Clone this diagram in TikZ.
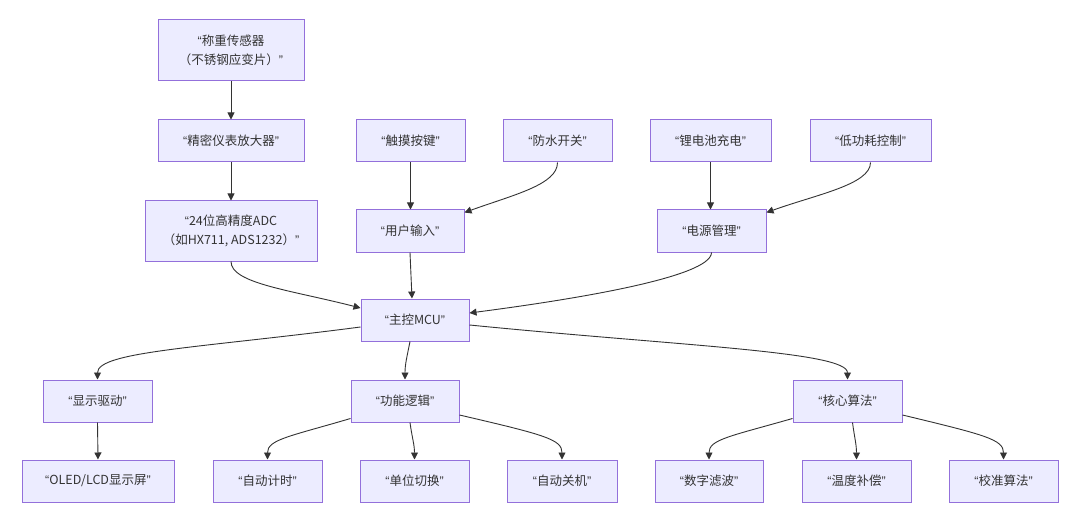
\documentclass[tikz,border=0pt]{standalone}
\usepackage{fontspec}
\setmainfont{Noto Sans CJK SC}
\newfontfamily\quotefont{Liberation Sans}
\newcommand{\lquo}{{\quotefont “}}
\newcommand{\rquo}{{\quotefont ”}}
\usetikzlibrary{arrows.meta,calc}
\definecolor{nodefill}{HTML}{ECECFF}
\definecolor{nodeborder}{HTML}{9370DB}
\definecolor{edgecol}{HTML}{333333}
\definecolor{txt}{HTML}{333333}
\begin{document}
\begin{tikzpicture}[x=1pt,y=-1pt,
  box/.style={draw=nodeborder, fill=nodefill, line width=1pt, inner sep=0pt,
    minimum height=42pt, text=txt, font=\fontsize{12.5}{19}\selectfont, align=center},
  edge/.style={draw=edgecol, line width=0.9pt, -{Triangle[length=7pt,width=7pt]}}]
\fill[white] (0,0) rectangle (1080,524);
\useasboundingbox (0,0) rectangle (1080,524);
% row 1
\node[box, minimum width=146pt, minimum height=61pt] (sensor) at (231,50.5) {\lquo 称重传感器\\（不锈钢应变片）\rquo};
% row 2
\node[box, minimum width=146pt] (amp) at (231,141) {\lquo 精密仪表放大器\rquo};
\node[box, minimum width=109pt] (touch) at (410.5,141) {\lquo 触摸按键\rquo};
\node[box, minimum width=109pt] (water) at (557.5,141) {\lquo 防水开关\rquo};
\node[box, minimum width=121pt] (charge) at (710.5,141) {\lquo 锂电池充电\rquo};
\node[box, minimum width=121pt] (lowpow) at (870.5,141) {\lquo 低功耗控制\rquo};
% row 3
\node[box, minimum width=172pt, minimum height=60pt] (adc) at (231,231) {\lquo 24位高精度ADC\\（如HX711, ADS1232）\rquo};
\node[box, minimum width=108pt] (userin) at (410,231) {\lquo 用户输入\rquo};
\node[box, minimum width=109pt] (power) at (711.5,231) {\lquo 电源管理\rquo};
% row 4
\node[box, minimum width=108pt] (mcu) at (415,320) {\lquo 主控MCU\rquo};
% row 5
\node[box, minimum width=109pt] (display) at (97.5,401) {\lquo 显示驱动\rquo};
\node[box, minimum width=108pt] (func) at (405,401) {\lquo 功能逻辑\rquo};
\node[box, minimum width=109pt] (core) at (847.5,401) {\lquo 核心算法\rquo};
% row 6
\node[box, minimum width=152pt] (oled) at (98,481) {\lquo OLED/LCD显示屏\rquo};
\node[box, minimum width=109pt] (timer) at (267.5,481) {\lquo 自动计时\rquo};
\node[box, minimum width=109pt] (unit) at (414.5,481) {\lquo 单位切换\rquo};
\node[box, minimum width=110pt] (off) at (562,481) {\lquo 自动关机\rquo};
\node[box, minimum width=108pt] (filter) at (709,481) {\lquo 数字滤波\rquo};
\node[box, minimum width=109pt] (temp) at (856.5,481) {\lquo 温度补偿\rquo};
\node[box, minimum width=109pt] (calib) at (1003.5,481) {\lquo 校准算法\rquo};
% edges
\draw[edge] (sensor.south) -- (amp.north);
\draw[edge] (amp.south) -- (adc.north);
\draw[edge] (touch.south) -- (touch.south |- userin.north);
\draw[edge] (charge.south) -- (charge.south |- power.north);
\draw[edge] (water.south) .. controls ($(water.south)+(0,22)$) and ($(userin.north east)+(50,-15)$) .. ($(userin.north east)+(0,3)$);
\draw[edge] (lowpow.south) .. controls ($(lowpow.south)+(0,22)$) and ($(power.north east)+(50,-15)$) .. ($(power.north east)+(0,3)$);
\draw[edge] (adc.south) .. controls ($(adc.south)+(0,22)$) and ($(mcu.west)+(-70,-30)$) .. ($(mcu.west)+(0,-12)$);
\draw[edge] (userin.south) -- ($(mcu.north)+(-3,0)$);
\draw[edge] (power.south) .. controls ($(power.south)+(0,25)$) and ($(mcu.east)+(100,-20)$) .. ($(mcu.east)+(0,-7)$);
\draw[edge] ($(mcu.west)+(0,7)$) .. controls ($(mcu.west)+(-161,28)$) and ($(display.north)+(0,-28)$) .. (display.north);
\draw[edge] ($(mcu.south)+(-5,0)$) .. controls ($(mcu.south)+(-8,15)$) and ($(func.north)+(0,-15)$) .. (func.north);
\draw[edge] ($(mcu.east)+(0,5)$) .. controls ($(mcu.east)+(211,26)$) and ($(core.north)+(0,-28)$) .. (core.north);
\draw[edge] (display.south) -- (oled.north);
\draw[edge] ($(func.south west)+(0,-4)$) .. controls ($(func.south west)+(-61,14)$) and ($(timer.north)+(0,-20)$) .. (timer.north);
\draw[edge] ($(func.south)+(5,0)$) .. controls ($(func.south)+(7,15)$) and ($(unit.north)+(0,-15)$) .. (unit.north);
\draw[edge] ($(func.east)+(0,14)$) .. controls ($(func.east)+(86,34)$) and ($(off.north)+(0,-20)$) .. (off.north);
\draw[edge] ($(core.south west)+(0,-4)$) .. controls ($(core.south west)+(-63,14)$) and ($(filter.north)+(0,-20)$) .. (filter.north);
\draw[edge] ($(core.south)+(5,0)$) .. controls ($(core.south)+(7,15)$) and ($(temp.north)+(0,-15)$) .. (temp.north);
\draw[edge] ($(core.east)+(0,14)$) .. controls ($(core.east)+(83,34)$) and ($(calib.north)+(0,-20)$) .. (calib.north);
\end{tikzpicture}
\end{document}
